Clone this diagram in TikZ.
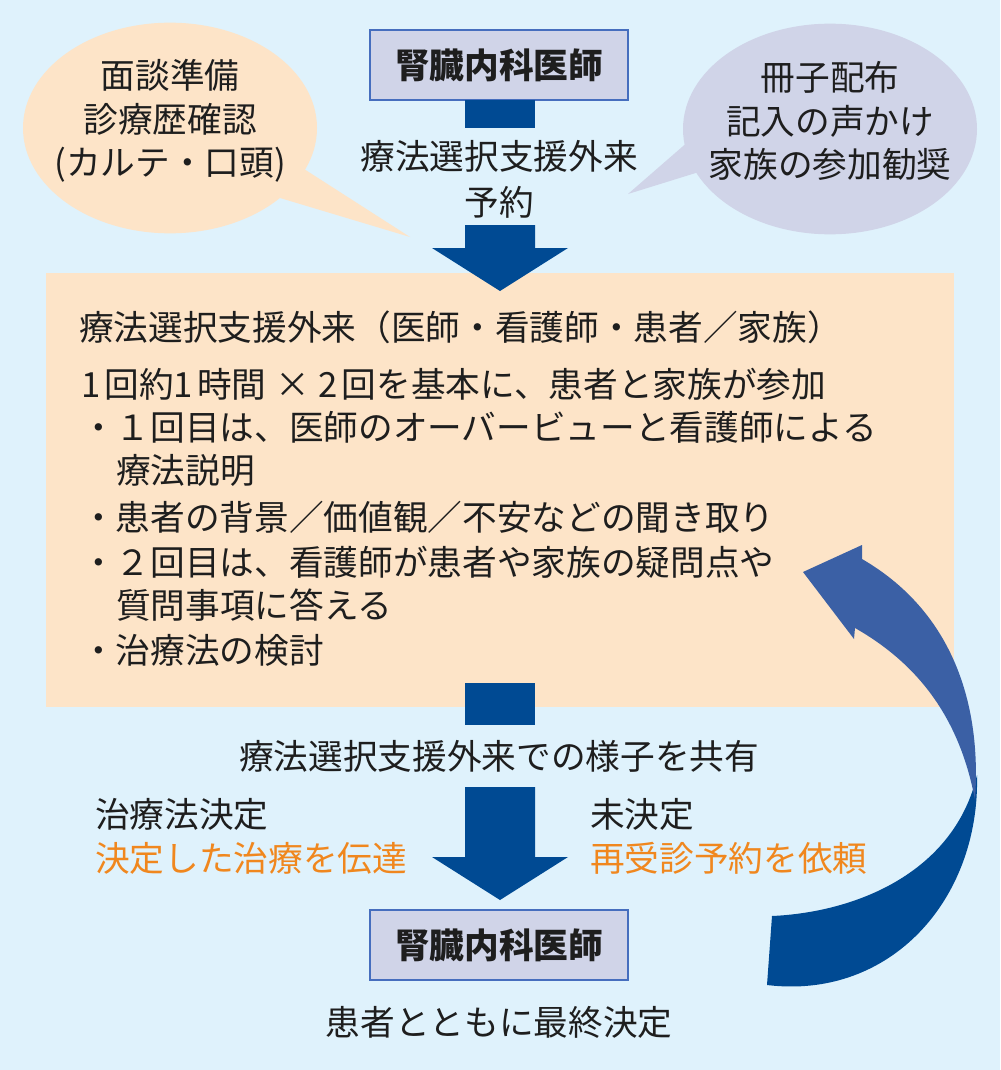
\documentclass[tikz,border=0pt]{standalone}
\usepackage{fontspec}
\setmainfont{Noto Sans CJK JP}
\usetikzlibrary{shapes.geometric}
\definecolor{bg}{RGB}{223,242,252}
\definecolor{peach}{RGB}{253,228,200}
\definecolor{lav}{RGB}{208,212,232}
\definecolor{boxline}{RGB}{70,110,190}
\definecolor{navy}{RGB}{0,74,147}
\definecolor{lightnavy}{RGB}{59,96,165}
\definecolor{txt}{RGB}{30,30,30}
\definecolor{orng}{RGB}{240,135,30}
\begin{document}
\begin{tikzpicture}[x=0.75pt,y=-0.75pt,
  every node/.style={inner sep=0pt, outer sep=0pt, text=txt},
  jp/.style={font=\fontsize{26}{32.6}\selectfont},
  body/.style={font=\fontsize{26}{33}\selectfont, anchor=west},
  docbox/.style={draw=boxline, line width=1pt, fill=lav, minimum width=193.5pt, minimum height=52.5pt, font=\bfseries\fontsize{26}{30}\selectfont},
  bubble/.style={ellipse, minimum width=220.5pt, minimum height=158pt},
]
\fill[bg] (0,0) rectangle (1000,1070);
\useasboundingbox (0,0) rectangle (1000,1070);

% speech bubbles
\node[bubble, fill=peach] (lb) at (170,128) {};
\coordinate (lbtip) at (410,237);
\fill[peach] (290,160) -- (lbtip) -- (270,195) -- cycle;
\node[jp, align=center] (lbt) at (170,121) {面談準備\\診療歴確認\\(カルテ・口頭)};

\node[bubble, fill=lav] (rb) at (830,129) {};
\coordinate (rbtip) at (628,194);
\fill[lav] (705,127) -- (rbtip) -- (715,167) -- cycle;
\node[jp, align=center] (rbt) at (830,121) {冊子配布\\記入の声かけ\\家族の参加勧奨};

% top doctor box
\node[docbox] (doc1) at (499,65) {腎臓内科医師};
\fill[navy] (465,100) rectangle (535,128);
\node[jp, align=center, font=\fontsize{26}{34.5}\selectfont] (resv) at (499,179) {療法選択支援外来\\予約};

% main box
\node[fill=peach, minimum width=681pt, minimum height=325.5pt] (main) at (500,490) {};
\fill[navy] (465,225) -- (535,225) -- (535,248) -- (568,248) -- (500,291) -- (432,248) -- (465,248) -- cycle;

\node[body] (m1) at (79,327) {療法選択支援外来（医師・看護師・患者／家族）};
\node[body] (m2) at (81,384) {1\hspace{0.12em}回約1\hspace{0.12em}時間\hspace{0.25em}×\hspace{0.25em}2\hspace{0.12em}回を基本に、患者と家族が参加};
\node[body] (m3) at (81,427) {・１回目は、医師のオーバービューと看護師による};
\node[body] (m4) at (116,470) {療法説明};
\node[body] (m5) at (81,517) {・患者の背景／価値観／不安などの聞き取り};
\node[body] (m6) at (81,562) {・２回目は、看護師が患者や家族の疑問点や};
\node[body] (m7) at (116,605) {質問事項に答える};
\node[body] (m8) at (81,650) {・治療法の検討};

% lower arrows
\fill[navy] (465,683) rectangle (535,725);
\node[jp] (share) at (499,756) {療法選択支援外来での様子を共有};
\fill[navy] (465,787) -- (535,787) -- (535,857) -- (568,857) -- (500,900) -- (432,857) -- (465,857) -- cycle;

\node[jp, anchor=west, align=left, font=\fontsize{26}{33}\selectfont] (dec) at (95,836) {治療法決定\\\textcolor{orng}{決定した治療を伝達}};
\node[jp, anchor=west, align=left, font=\fontsize{26}{33}\selectfont] (undec) at (590,836) {未決定\\\textcolor{orng}{再受診予約を依頼}};

% bottom doctor box
\node[docbox] (doc2) at (499,945) {腎臓内科医師};
\node[jp] (final) at (499,1022) {患者とともに最終決定};

% curved return arrow (twisted ribbon)
\coordinate (twist) at (976,790);
\coordinate (ctip) at (803,572);
\fill[navy] (772,916) .. controls (860,912) and (955,870) .. (977,775)
  .. controls (980,900) and (890,1000) .. (767,985) -- cycle;
\fill[lightnavy] (975,800) .. controls (982,700) and (950,610) .. (862,559)
  -- (862,545) -- (ctip) -- (854,639) -- (855,628)
  .. controls (920,665) and (960,720) .. (975,800) -- cycle;
\end{tikzpicture}
\end{document}
